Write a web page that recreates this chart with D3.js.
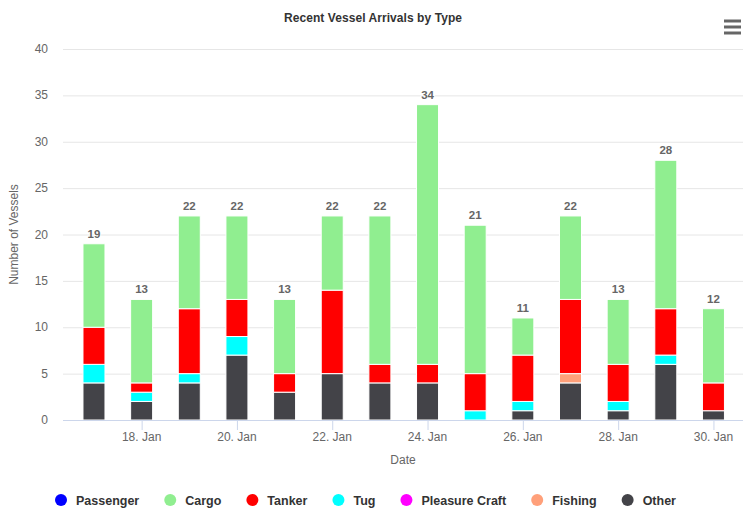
<!DOCTYPE html>
<html lang="en">
<head>
<meta charset="UTF-8">
<title>Recent Vessel Arrivals by Type</title>
<script src="https://cdn.jsdelivr.net/npm/d3@7"></script>
<style>
    body { margin: 0; background: #fff; }
    svg { font-family: "Liberation Sans", Arial, Helvetica, sans-serif; }
</style>
</head>
<body>
<svg id="chart" width="743" height="519"></svg>
<script>
// days shown on the x axis (January)
var days = [17, 18, 19, 20, 21, 22, 23, 24, 25, 26, 27, 28, 29, 30];
var seriesNames = ["Passenger", "Cargo", "Tanker", "Tug", "Pleasure Craft", "Fishing", "Other"];
var seriesColors = ["#0000ff", "#90ee90", "#ff0000", "#00ffff", "#ff00ff", "#ffa07a", "#434348"];

// counts per type, one value per day
var passenger = [0, 0, 0, 0, 0, 0, 0, 0, 0, 0, 0, 0, 0, 0];
var cargo     = [9, 9, 10, 9, 8, 8, 16, 28, 16, 4, 9, 7, 16, 8];
var tanker    = [4, 1, 7, 4, 2, 9, 2, 2, 4, 5, 8, 4, 5, 3];
var tug       = [2, 1, 1, 2, 0, 0, 0, 0, 1, 1, 0, 1, 1, 0];
var pleasure  = [0, 0, 0, 0, 0, 0, 0, 0, 0, 0, 0, 0, 0, 0];
var fishing   = [0, 0, 0, 0, 0, 0, 0, 0, 0, 0, 1, 0, 0, 0];
var other     = [4, 2, 4, 7, 3, 5, 4, 4, 0, 1, 4, 1, 6, 1];

var yTicks = [0, 5, 10, 15, 20, 25, 30, 35, 40];
var xTickDays = [18, 20, 22, 24, 26, 28, 30];

var svg = d3.select("#chart");
var plotLeft = 63, plotRight = 743, plotTop = 49, plotBottom = 420;

var rows = days.map(function (d, i) {
    return {
        date: new Date(2018, 0, d),
        "Passenger": passenger[i], "Cargo": cargo[i], "Tanker": tanker[i], "Tug": tug[i],
        "Pleasure Craft": pleasure[i], "Fishing": fishing[i], "Other": other[i]
    };
});

// Highcharts style: first series ends up on top, so stack in reverse
var stackOrder = seriesNames.slice().reverse();
var stacked = d3.stack().keys(stackOrder)(rows);
var color = d3.scaleOrdinal().domain(seriesNames).range(seriesColors);

var x = d3.scaleTime()
    .domain([new Date(2018, 0, 16, 8, 24), new Date(2018, 0, 30, 14, 53)])
    .range([plotLeft, plotRight]);
var y = d3.scaleLinear().domain([0, 40]).range([plotBottom, plotTop]);
var barW = 22;

// grid
svg.append("g").selectAll("line").data(yTicks.slice(1)).join("line")
    .attr("x1", plotLeft).attr("x2", plotRight)
    .attr("y1", d => y(d) + 0.5).attr("y2", d => y(d) + 0.5)
    .attr("stroke", "#e6e6e6").attr("stroke-width", 1);

// y labels
svg.append("g").selectAll("text").data(yTicks).join("text")
    .attr("x", 48).attr("y", d => y(d) + 4)
    .attr("text-anchor", "end")
    .attr("font-size", 12).attr("fill", "#666")
    .text(d => d);

svg.append("text")
    .attr("transform", "translate(18," + (plotTop + plotBottom) / 2 + ") rotate(-90)")
    .attr("text-anchor", "middle")
    .attr("font-size", 12).attr("fill", "#666")
    .text("Number of Vessels");

// bars
svg.append("g").selectAll("g").data(stacked).join("g")
    .attr("fill", d => color(d.key))
    .selectAll("rect").data(d => d).join("rect")
    .attr("x", d => x(d.data.date) - barW / 2)
    .attr("y", d => y(d[1]))
    .attr("width", barW)
    .attr("height", d => y(d[0]) - y(d[1]))
    .attr("stroke", "#fff").attr("stroke-width", 1)
    .style("display", d => d[1] - d[0] > 0 ? null : "none");

// stack totals
svg.append("g").selectAll("text").data(rows).join("text")
    .attr("x", d => x(d.date))
    .attr("y", d => y(d3.sum(seriesNames, k => d[k])) - 6)
    .attr("text-anchor", "middle")
    .attr("font-size", 11.5).attr("font-weight", "bold").attr("fill", "#666")
    .attr("stroke", "#fff").attr("stroke-width", 2).attr("paint-order", "stroke")
    .text(d => d3.sum(seriesNames, k => d[k]));

// x axis
svg.append("line")
    .attr("x1", plotLeft).attr("x2", plotRight)
    .attr("y1", plotBottom + 0.5).attr("y2", plotBottom + 0.5)
    .attr("stroke", "#ccd6eb");

var xt = svg.append("g").selectAll("g")
    .data(xTickDays.map(d => new Date(2018, 0, d))).join("g")
    .attr("transform", d => "translate(" + x(d) + "," + plotBottom + ")");
xt.append("line").attr("x1", 0.5).attr("x2", 0.5).attr("y1", 0).attr("y2", 10).attr("stroke", "#ccd6eb");
xt.append("text").attr("y", 21).attr("text-anchor", "middle")
    .attr("font-size", 12).attr("fill", "#666")
    .text(d3.timeFormat("%-d. %b"));

svg.append("text")
    .attr("x", (plotLeft + plotRight) / 2).attr("y", 464)
    .attr("text-anchor", "middle")
    .attr("font-size", 12).attr("fill", "#666")
    .text("Date");

// title
svg.append("text")
    .attr("x", 373).attr("y", 22)
    .attr("text-anchor", "middle")
    .attr("font-size", 12).attr("font-weight", "bold").attr("fill", "#333")
    .attr("textLength", 178)
    .text("Recent Vessel Arrivals by Type");

// menu icon
svg.append("g").selectAll("line").data([21, 27, 33]).join("line")
    .attr("x1", 724).attr("x2", 741)
    .attr("y1", d => d).attr("y2", d => d)
    .attr("stroke", "#666").attr("stroke-width", 3);

// legend
var legend = svg.append("g");
var lx = 61;
seriesNames.forEach(function (name) {
    legend.append("circle").attr("cx", lx).attr("cy", 500).attr("r", 6).attr("fill", color(name));
    var t = legend.append("text")
        .attr("x", lx + 15).attr("y", 504.5)
        .attr("font-size", 12.5).attr("font-weight", "bold").attr("fill", "#333")
        .text(name);
    lx += 15 + t.node().getComputedTextLength() + 31;
});
</script>
</body>
</html>
